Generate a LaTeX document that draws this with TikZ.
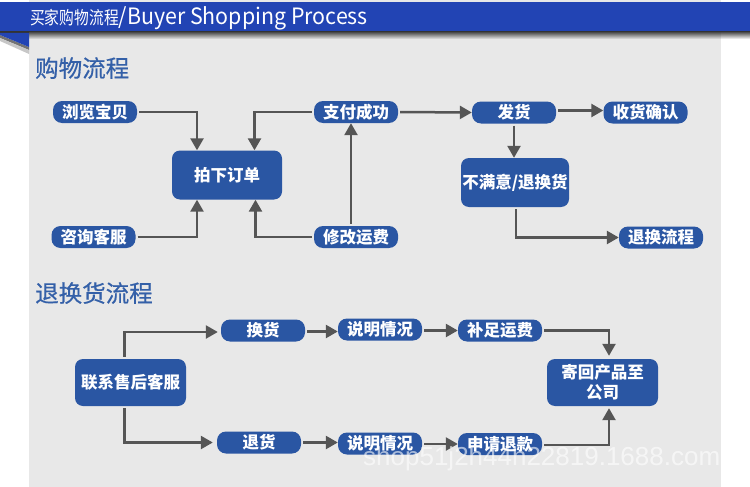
\documentclass[tikz,border=0pt]{standalone}
\usepackage{fontspec}
\usetikzlibrary{arrows.meta}
\newfontfamily\cjk{Noto Sans CJK SC}
\newfontfamily\cjkcond{Noto Sans CJK SC}[FakeStretch=0.82]
\newfontfamily\latcond{Noto Sans CJK SC}[FakeStretch=0.95]
\newfontfamily\cjkmed{Noto Sans CJK SC}[FakeBold=0.6]
\newfontfamily\wmfont{Liberation Sans}
\definecolor{barblue}{HTML}{2244B4}
\definecolor{nodeblue}{HTML}{2A56A3}
\definecolor{titleblue}{HTML}{3460A8}
\definecolor{panelgray}{HTML}{E8E8E8}
\definecolor{arrowgray}{HTML}{555555}
\tikzset{
  pill/.style={fill=nodeblue, rounded corners=9pt, minimum width=84pt, minimum height=22pt,
    inner sep=0pt, text=white, font=\cjk\bfseries\fontsize{16.5}{20}\selectfont},
  bigbox/.style={fill=nodeblue, rounded corners=8pt, minimum width=110pt, minimum height=49pt,
    inner sep=0pt, text=white, align=center, font=\cjk\bfseries\fontsize{16.5}{20}\selectfont},
  arr/.style={draw=arrowgray, line width=2.5pt, shorten <=2pt,
    -{Triangle[length=12pt,width=13pt]}},
  sectitle/.style={anchor=base west, inner sep=0pt, text=titleblue,
    font=\cjkmed\fontsize{23.5}{26}\selectfont},
}
\begin{document}
\begin{tikzpicture}[x=1pt,y=-1pt]
\useasboundingbox (0,0) rectangle (750,487);
% background
\fill[white] (0,0) rectangle (750,487);
\fill[panelgray] (29,0) rectangle (721,487);
% header bar and shadow
\shade[top color=black!80, bottom color=panelgray] (29,31) rectangle (721,39);
\shade[top color=black!80, bottom color=white] (721,31) rectangle (750,39);
\fill[black!80] (0,31) rectangle (29,33);
\fill[black!55] (0,35) -- (29,47) -- (29,50) -- (0,38) -- cycle;
\fill[black!22] (0,38) -- (29,50) -- (29,54) -- (0,41) -- cycle;
\fill[barblue] (0,33) -- (29,33) -- (29,47) -- (0,35) -- cycle;
\fill[barblue] (0,2) rectangle (750,31);
\node[anchor=base west, inner sep=0pt, text=white, font=\cjkcond\fontsize{18}{20}\selectfont]
  (header) at (30,24.5) {买家购物流程{\latcond\fontsize{22.5}{24}\selectfont/Buyer Shopping Process}};
% section titles
\node[sectitle] (t1) at (35,77) {购物流程};
\node[sectitle] (t2) at (35,302) {退换货流程};
% shopping process nodes
\node[pill] (liulan) at (95,112) {浏览宝贝};
\node[pill] (zixun) at (93.5,237) {咨询客服};
\node[bigbox] (paixia) at (227,175) {拍下订单};
\node[pill] (zhifu) at (356,112) {支付成功};
\node[pill] (xiugai) at (356,237) {修改运费};
\node[pill] (fahuo) at (514,112.5) {发货};
\node[pill] (shouhuo) at (645.5,112.5) {收货确认};
\node[bigbox, minimum width=108pt] (bumanyi) at (515,182.5) {不满意/退换货};
\node[pill] (tuihuanlc) at (661,237.5) {退换流程};
% shopping connectors
\draw[arr] (liulan.east) -| ([xshift=-30pt]paixia.north);
\draw[arr] (zhifu.west) -| ([xshift=27.5pt]paixia.north);
\draw[arr] (zixun.east) -| ([xshift=-30pt]paixia.south);
\draw[arr] (xiugai.west) -| ([xshift=28.5pt]paixia.south);
\draw[arr] ([xshift=-5pt]xiugai.north) -- ([xshift=-5pt]zhifu.south);
\draw[arr] (zhifu.east) -- (fahuo.west);
\draw[arr] ([yshift=2pt]fahuo.east) -- ([yshift=2pt]shouhuo.west);
\draw[arr] (fahuo.south) -- (fahuo.south |- bumanyi.north);
\draw[arr] ([xshift=1pt]bumanyi.south) |- (tuihuanlc.west);
% return process nodes
\node[bigbox, minimum width=111pt, minimum height=47pt] (lianxi) at (130.5,382.5) {联系售后客服};
\node[pill] (huanhuo) at (263,330.5) {换货};
\node[pill] (shuoming1) at (380,329.5) {说明情况};
\node[pill] (buzu) at (500,330.5) {补足运费};
\node[bigbox, minimum width=111pt, minimum height=47pt] (jihui) at (602.5,382.5) {寄回产品至\\公司};
\node[pill] (tuihuo) at (259,442.5) {退货};
\node[pill] (shuoming2) at (380,443.5) {说明情况};
\node[pill] (shenqing) at (500,444) {申请退款};
% return connectors
\draw[arr, shorten >=3pt] ([xshift=-6pt]lianxi.north) |- ([yshift=-1.5pt]huanhuo.west);
\draw[arr, shorten >=4pt] ([xshift=-6pt]lianxi.south) |- (tuihuo.west);
\draw[arr] ([yshift=-1pt]huanhuo.east) -- ([yshift=-1pt]huanhuo.east -| shuoming1.west);
\draw[arr] ([yshift=-1pt]shuoming1.east) -- ([yshift=-1pt]shuoming1.east -| buzu.west);
\draw[arr] (tuihuo.east) -- (tuihuo.east -| shuoming2.west);
\draw[arr] ([yshift=-0.5pt]shuoming2.east) -- ([yshift=-0.5pt]shuoming2.east -| shenqing.west);
\draw[arr, shorten >=3pt] (buzu.east) -| ([xshift=6.5pt]jihui.north);
\draw[arr, shorten >=2pt] ([yshift=-1pt]shenqing.east) -| ([xshift=6.5pt]jihui.south);
% watermark
\begin{scope}
\clip (29,0) rectangle (721,487);
\node[anchor=base west, inner sep=0pt, text=white, opacity=0.6, font=\wmfont\fontsize{26}{30}\selectfont]
  (wm) at (363,465) {shop51j2h44h22819.1688.com};
\end{scope}
\end{tikzpicture}
\end{document}
